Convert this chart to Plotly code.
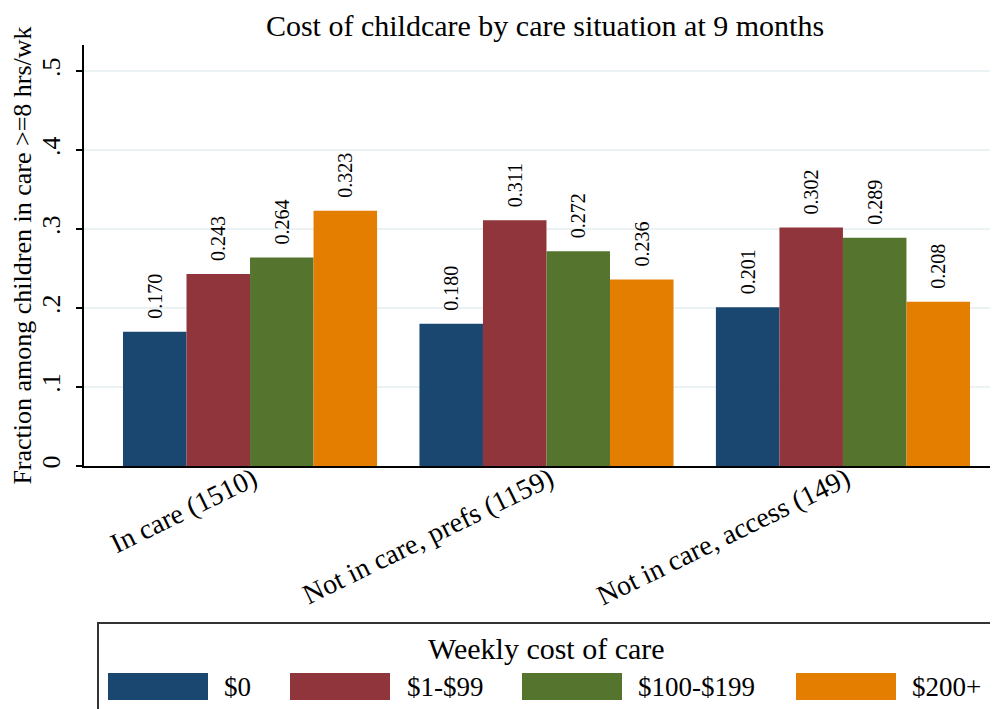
import plotly.graph_objects as go

categories = ["In care (1510)", "Not in care, prefs (1159)", "Not in care, access (149)"]
series_names = ["$0", "$1-$99", "$100-$199", "$200+"]
values_0 = [0.170, 0.180, 0.201]
values_1_99 = [0.243, 0.311, 0.302]
values_100_199 = [0.264, 0.272, 0.289]
values_200p = [0.323, 0.236, 0.208]
series_values = [values_0, values_1_99, values_100_199, values_200p]
colors = ["#1a476f", "#90353b", "#55752f", "#e37e00"]
ytick_vals = [0, 0.1, 0.2, 0.3, 0.4, 0.5]
ytick_text = ["0", ".1", ".2", ".3", ".4", ".5"]

FONT = "Liberation Serif, Times New Roman, serif"
OFF = 8  # page body margin
W, H = 998 - OFF, 709 - OFF
# plot-area edges in page pixels
L_p, R_p, T_p, B_p = 84, 998, 45, 466
L, R, T, B = L_p - OFF, R_p - OFF, T_p - OFF, B_p - OFF


def px(x):  # page px -> paper
    return (x - L_p) / (R_p - L_p)


def py(y):
    return (B_p - y) / (B_p - T_p)


fig = go.Figure()
for name, vals, col in zip(series_names, series_values, colors):
    fig.add_trace(go.Bar(
        x=categories, y=vals, name=name, marker_color=col, marker_line_width=0,
        text=["\u00a0\u00a0" + f"{v:.3f}" for v in vals],
        textposition="outside", textangle=-90,
        textfont=dict(family=FONT, size=20, color="black"),
        cliponaxis=False, showlegend=False,
    ))

fig.update_layout(
    width=W, height=H,
    margin=dict(l=L, r=W - R, t=T, b=H - B, pad=0, autoexpand=False),
    paper_bgcolor="white", plot_bgcolor="white",
    barmode="group", bargap=0.143, bargroupgap=0,
    font=dict(family=FONT, color="black"),
    title=dict(text="Cost of childcare by care situation at 9 months",
               x=(545 - OFF) / W, xanchor="center", y=1 - (25 - OFF) / H, yanchor="middle",
               automargin=False, pad=dict(t=0, b=0),
               font=dict(family=FONT, size=30, color="black")),
)
fig.update_xaxes(
    range=[-0.56, 2.523], showline=True, linecolor="black", linewidth=2,
    ticks="", tickangle=-26, tickfont=dict(family=FONT, size=28, color="black"),
    ticklabelstandoff=-16, ticklabelshift=3,
    showgrid=False, zeroline=False, automargin=False,
)
fig.update_yaxes(
    range=[0, 0.533], showline=True, linecolor="black", linewidth=1.5,
    tickvals=ytick_vals, ticktext=ytick_text, ticks="outside", ticklen=6,
    tickcolor="black", tickwidth=1.5, tickangle=-90,
    tickfont=dict(family=FONT, size=26, color="black"),
    ticklabelstandoff=6,
    showgrid=True, gridcolor="#eaf2f3", gridwidth=2, zeroline=False,
    automargin=False,
    title=dict(text="Fraction among children in care >=8 hrs/wk",
               font=dict(family=FONT, size=26, color="black"), standoff=2),
)

# Legend box (custom, Stata style)
shapes = [dict(type="rect", xref="paper", yref="paper",
               x0=px(98), x1=px(997), y0=py(720), y1=py(623),
               line=dict(color="#333333", width=2), fillcolor="rgba(0,0,0,0)")]
annotations = [dict(text="Weekly cost of care", xref="paper", yref="paper",
                    x=px(546), y=py(648), xanchor="center", yanchor="middle",
                    showarrow=False, font=dict(family=FONT, size=30, color="black"))]
sw_x = [108, 290, 522, 796]
lab_x = [222, 405, 636, 910]
for name, col, sx, lx in zip(series_names, colors, sw_x, lab_x):
    shapes.append(dict(type="rect", xref="paper", yref="paper",
                       x0=px(sx), x1=px(sx + 100), y0=py(700), y1=py(673),
                       line=dict(width=0), fillcolor=col))
    annotations.append(dict(text=name, xref="paper", yref="paper",
                            x=px(lx), y=py(687), xanchor="left", yanchor="middle",
                            showarrow=False,
                            font=dict(family=FONT, size=27, color="black")))
fig.update_layout(shapes=shapes, annotations=annotations)

fig.write_html("out.html")
